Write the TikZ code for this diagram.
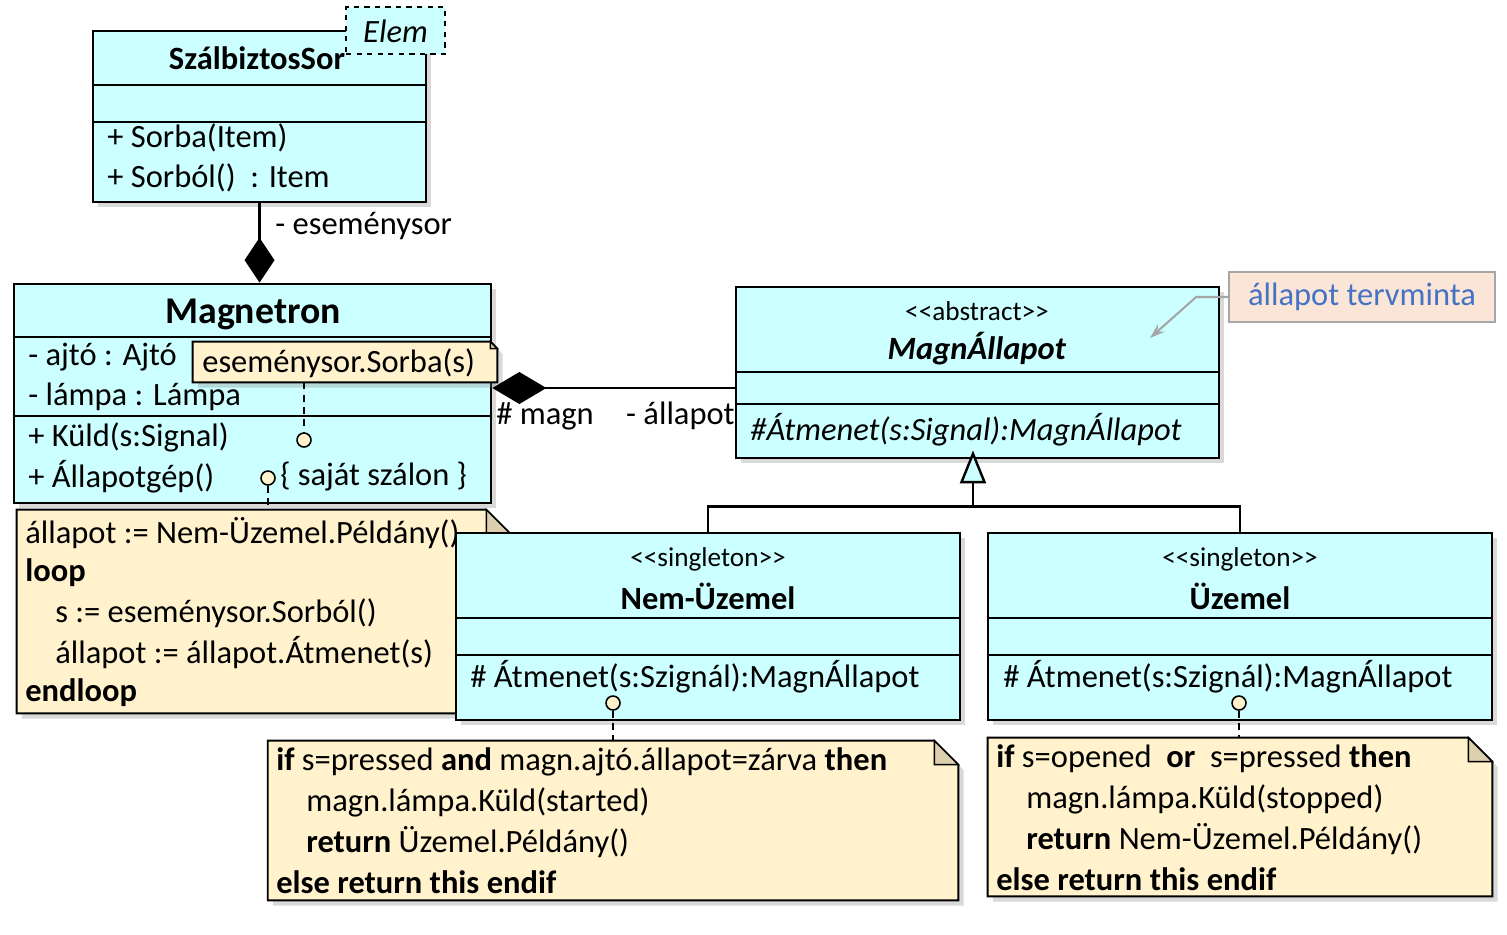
\documentclass[tikz,border=0pt]{standalone}
\usepackage{fontspec}
\setmainfont{Carlito}
\usetikzlibrary{arrows.meta, shadows}

\definecolor{umlcyan}{HTML}{CCFFFF}
\definecolor{notefill}{HTML}{FFF2CC}
\definecolor{notefold}{HTML}{DCCFAE}
\definecolor{hintfill}{HTML}{FBE5D6}
\definecolor{hintblue}{HTML}{4472C4}

\tikzset{
  classbox/.style={draw=black, line width=1.6pt, fill=umlcyan, inner sep=0pt,
    drop shadow={shadow xshift=3pt, shadow yshift=-3pt, opacity=0.3}},
  notebox/.style={inner sep=0pt},
  notepath/.style={draw=black, line width=1.1pt, fill=notefill,
    drop shadow={shadow xshift=3pt, shadow yshift=-3pt, opacity=0.3}},
  txt/.style={inner sep=0pt, anchor=west, font=\fontsize{18.5}{20}\selectfont},
  ctxt/.style={inner sep=0pt, font=\fontsize{18.5}{20}\selectfont},
  stereo/.style={inner sep=0pt, font=\fontsize{15.5}{18}\selectfont},
  port/.style={circle, draw=black, line width=0.9pt, fill=notefill,
    minimum size=0.28cm, inner sep=0pt},
  dashline/.style={line width=0.9pt, dash pattern=on 4pt off 3pt},
  sep/.style={line width=1.6pt}
}

\begin{document}
\begin{tikzpicture}[x=0.02cm, y=-0.02cm]
  \useasboundingbox (0,0) rectangle (1507,934);

  % SzalbiztosSor
  \node[classbox, minimum width=6.66cm, minimum height=3.42cm] (szal) at (259.5,116.5) {};
  \draw[sep] (szal.west |- 0,85) -- (szal.east |- 0,85);
  \draw[sep] (szal.west |- 0,122) -- (szal.east |- 0,122);
  \node[ctxt] at (257,58) {\textbf{SzálbiztosSor}};
  \node[txt] at (107,138) {+ Sorba(Item)};
  \node[txt] at (107,178) {+ Sorból() \ : Item};
  % template parameter
  \node[draw=black, line width=1pt, dashed, fill=umlcyan, inner sep=0pt,
    minimum width=1.98cm, minimum height=0.94cm] (elem) at (395.5,30.5) {};
  \node[ctxt] at (395.5,31) {\textit{Elem}};

  % Magnetron
  \node[classbox, minimum width=9.54cm, minimum height=4.38cm] (magnetron) at (252.5,393.5) {};
  \draw[sep] (magnetron.west |- 0,337) -- (magnetron.east |- 0,337);
  \draw[sep] (magnetron.west |- 0,416) -- (magnetron.east |- 0,416);
  \node[inner sep=0pt, font=\fontsize{21.5}{24}\selectfont] at (253,314) {\textbf{Magnetron}};
  \node[txt] at (28,357) {- ajtó : Ajtó};
  \node[txt] at (28,397) {- lámpa : Lámpa};
  \node[txt] at (28,437) {+ Küld(s:Signal)};
  \node[txt] at (28,477) {+ Állapotgép()};
  \node[txt] at (280,477) {\{ saját szálon \}};

  % composition to SzalbiztosSor
  \draw[line width=1.6pt, -{Diamond[length=0.9cm, width=0.6cm]}]
    (szal.south) -- (szal.south |- magnetron.north);
  \node[txt] at (275,226) {- eseménysor};

  % note: esemenysor.Sorba(s)
  \node[notebox, minimum width=6.08cm, minimum height=0.8cm] (sorbanote) at (345,362) {};
  \draw[notepath] (sorbanote.north west) -- ([xshift=-0.14cm]sorbanote.north east)
    -- ([yshift=-0.14cm]sorbanote.north east) -- (sorbanote.south east)
    -- (sorbanote.south west) -- cycle;
  \draw[line width=0.8pt, fill=notefold] ([xshift=-0.14cm]sorbanote.north east)
    -- ([xshift=-0.14cm, yshift=-0.14cm]sorbanote.north east)
    -- ([yshift=-0.14cm]sorbanote.north east) -- cycle;
  \node[txt] at (202,363) {eseménysor.Sorba(s)};
  \node[port] (kuldport) at (304,440) {};
  \draw[dashline] (kuldport |- sorbanote.south) -- (kuldport.north);

  % note: loop
  \node[port] (gepport) at (268,478) {};
  \node[notebox, minimum width=9.86cm, minimum height=4.06cm] (loopnote) at (263.5,611.5) {};
  \draw[notepath] (loopnote.north west) -- ([xshift=-0.48cm]loopnote.north east)
    -- ([yshift=-0.48cm]loopnote.north east) -- (loopnote.south east)
    -- (loopnote.south west) -- cycle;
  \draw[line width=0.8pt, fill=notefold] ([xshift=-0.48cm]loopnote.north east)
    -- ([xshift=-0.48cm, yshift=-0.48cm]loopnote.north east)
    -- ([yshift=-0.48cm]loopnote.north east) -- cycle;
  \draw[dashline] (gepport.south) -- (gepport |- loopnote.north);
  \node[txt] at (25,533) {állapot := Nem-Üzemel.Példány()};
  \node[txt] at (25,573) {\textbf{loop}};
  \node[txt] at (55,613) {s := eseménysor.Sorból()};
  \node[txt] at (55,653) {állapot := állapot.Átmenet(s)};
  \node[txt] at (25,693) {\textbf{endloop}};

  % MagnAllapot
  \node[classbox, minimum width=9.66cm, minimum height=3.42cm] (absstate) at (977.5,372.5) {};
  \draw[sep] (absstate.west |- 0,372) -- (absstate.east |- 0,372);
  \draw[sep] (absstate.west |- 0,404) -- (absstate.east |- 0,404);
  \node[stereo] at (977,311) {<{}<abstract>{}>};
  \node[ctxt] at (977,349) {\textbf{\textit{MagnÁllapot}}};
  \node[txt] at (750,430) {\textit{\#Átmenet(s:Signal):MagnÁllapot}};

  % composition Magnetron -- MagnAllapot
  \coordinate (mlink) at (736,388);
  \draw[line width=1.6pt, {Diamond[length=1.08cm, width=0.64cm]}-]
    (magnetron.east |- mlink) -- (absstate.west |- mlink);
  \node[txt] at (496,416) {\# magn};
  \node[inner sep=0pt, anchor=east, font=\fontsize{18.5}{20}\selectfont] at (735,416) {- állapot};

  % hint
  \node[draw=black!35, line width=1pt, fill=hintfill, text=hintblue, inner sep=0pt,
    minimum width=5.32cm, minimum height=1cm, font=\fontsize{18.5}{20}\selectfont]
    (hint) at (1362,297) {állapot tervminta};
  \coordinate (hinttip) at (1150,338);
  \draw[black!35, line width=1.2pt, -{Stealth[length=0.3cm, width=0.2cm]}]
    (hint.west) -- ++(-32,0) -- (hinttip);

  % Nem-Uzemel
  \node[classbox, minimum width=10.08cm, minimum height=3.74cm] (nemuzem) at (708,626.5) {};
  \draw[sep] (nemuzem.west |- 0,618) -- (nemuzem.east |- 0,618);
  \draw[sep] (nemuzem.west |- 0,655) -- (nemuzem.east |- 0,655);
  \node[stereo] at (708,559) {<{}<singleton>{}>};
  \node[ctxt] at (708,596) {\textbf{Nem-Üzemel}};
  \node[txt] at (470,677) {\# Átmenet(s:Szignál):MagnÁllapot};

  % Uzemel
  \node[classbox, minimum width=10.08cm, minimum height=3.74cm] (uzemel) at (1240,626.5) {};
  \draw[sep] (uzemel.west |- 0,618) -- (uzemel.east |- 0,618);
  \draw[sep] (uzemel.west |- 0,655) -- (uzemel.east |- 0,655);
  \node[stereo] at (1240,559) {<{}<singleton>{}>};
  \node[ctxt] at (1240,596) {\textbf{Üzemel}};
  \node[txt] at (1003,677) {\# Átmenet(s:Szignál):MagnÁllapot};

  % generalization
  \coordinate (fork) at (973,508);
  \draw[line width=1.4pt] (nemuzem.north) -- ++(0,-25) -| (uzemel.north);
  \draw[line width=1.4pt, -{Triangle[length=0.66cm, width=0.52cm, fill=umlcyan]}]
    (fork) -- ([yshift=0.18cm]fork |- absstate.south);

  % note: Nem-Uzemel
  \node[port] (nemport) at (613,703) {};
  \node[notebox, minimum width=13.8cm, minimum height=3.18cm] (nemnote) at (613,820.5) {};
  \draw[notepath] (nemnote.north west) -- ([xshift=-0.48cm]nemnote.north east)
    -- ([yshift=-0.48cm]nemnote.north east) -- (nemnote.south east)
    -- (nemnote.south west) -- cycle;
  \draw[line width=0.8pt, fill=notefold] ([xshift=-0.48cm]nemnote.north east)
    -- ([xshift=-0.48cm, yshift=-0.48cm]nemnote.north east)
    -- ([yshift=-0.48cm]nemnote.north east) -- cycle;
  \draw[dashline] (nemport.south) -- (nemport |- nemnote.north);
  \node[txt] at (276,762) {\textbf{if} s=pressed \textbf{and} magn.ajtó.állapot=zárva \textbf{then}};
  \node[txt] at (306,802) {magn.lámpa.Küld(started)};
  \node[txt] at (306,842) {\textbf{return} Üzemel.Példány()};
  \node[txt] at (276,882) {\textbf{else return this endif}};

  % note: Uzemel
  \node[port] (uzport) at (1239,703) {};
  \node[notebox, minimum width=10.08cm, minimum height=3.16cm] (uznote) at (1240,817) {};
  \draw[notepath] (uznote.north west) -- ([xshift=-0.48cm]uznote.north east)
    -- ([yshift=-0.48cm]uznote.north east) -- (uznote.south east)
    -- (uznote.south west) -- cycle;
  \draw[line width=0.8pt, fill=notefold] ([xshift=-0.48cm]uznote.north east)
    -- ([xshift=-0.48cm, yshift=-0.48cm]uznote.north east)
    -- ([yshift=-0.48cm]uznote.north east) -- cycle;
  \draw[dashline] (uzport.south) -- (uzport |- uznote.north);
  \node[txt] at (996,759) {\textbf{if} s=opened \ \textbf{or} \ s=pressed \textbf{then}};
  \node[txt] at (1026,799) {magn.lámpa.Küld(stopped)};
  \node[txt] at (1026,839) {\textbf{return} Nem-Üzemel.Példány()};
  \node[txt] at (996,879) {\textbf{else return this endif}};
\end{tikzpicture}
\end{document}
